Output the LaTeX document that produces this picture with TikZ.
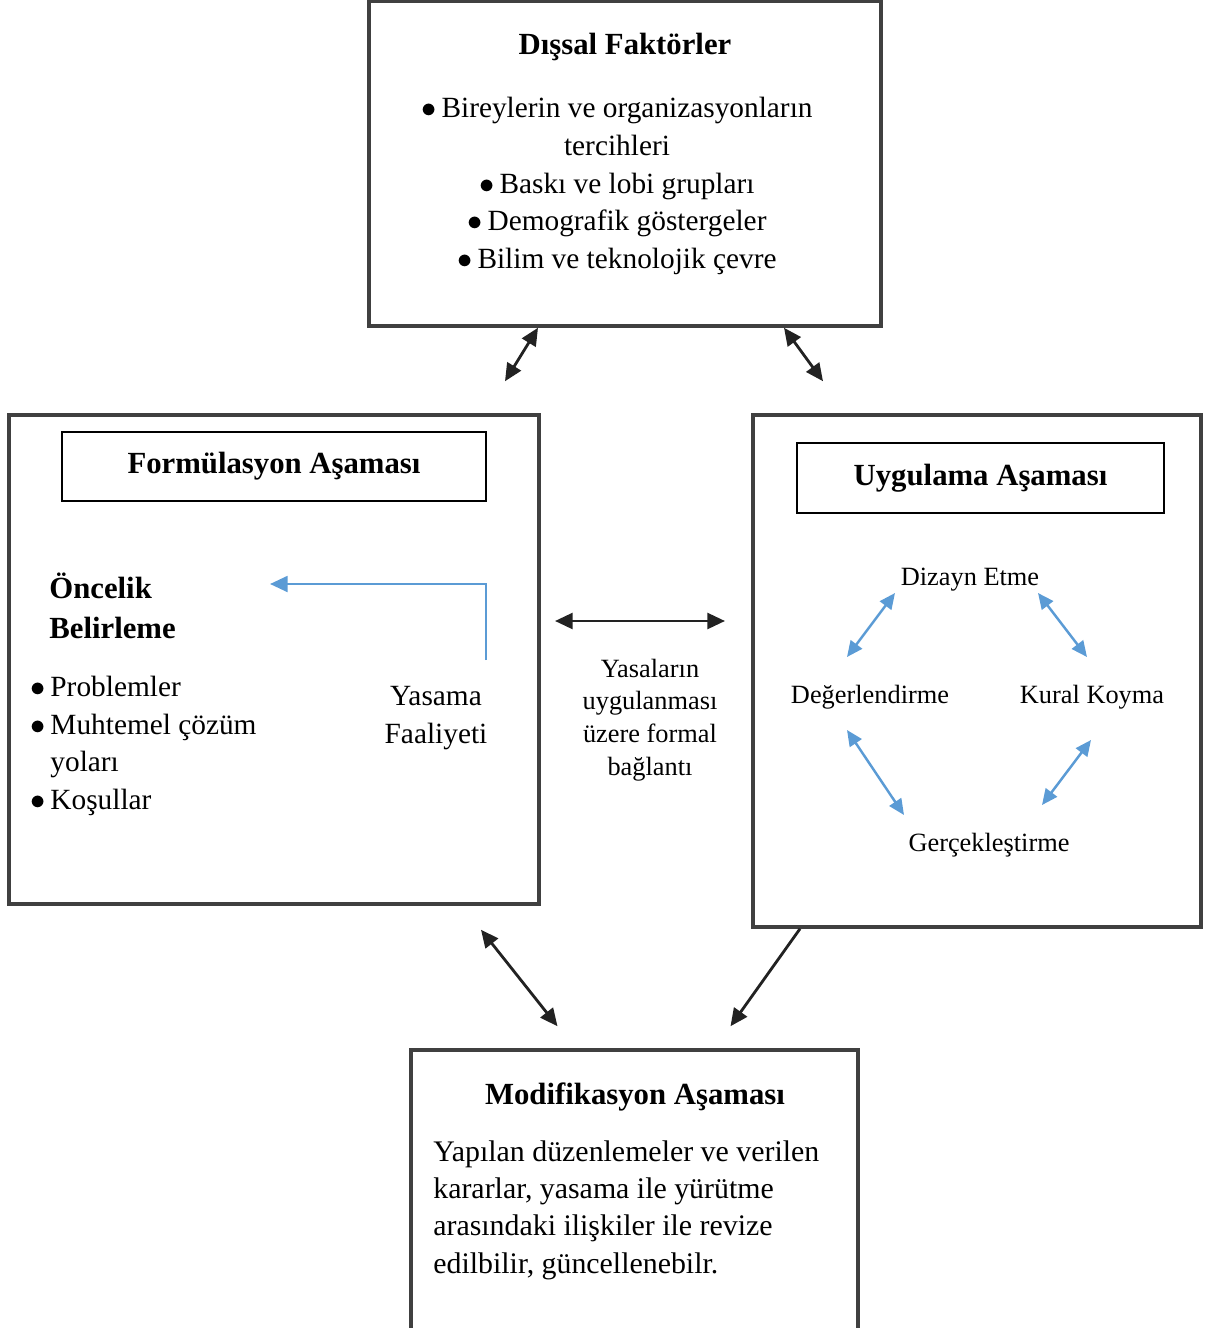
\documentclass[tikz,border=0pt]{standalone}
\usepackage{fontspec}
\setmainfont{Liberation Serif}
\usetikzlibrary{arrows.meta,calc,fit}
\definecolor{boxgray}{HTML}{404040}
\definecolor{arrowblack}{HTML}{222222}
\definecolor{cycleblue}{HTML}{5B9BD5}
\newcommand{\bul}{$\bullet$\,}
\tikzset{
  bigbox/.style={draw=boxgray, line width=2pt, inner sep=0pt},
  titlebox/.style={draw=black, line width=0.6pt, inner sep=0pt},
  titletext/.style={font=\fontsize{17.5}{22}\selectfont\bfseries, inner sep=0pt},
  bodytext/.style={font=\fontsize{16.7}{21.5}\selectfont, inner sep=0pt},
  smalltext/.style={font=\fontsize{15}{18.7}\selectfont, inner sep=0pt},
  karrow/.style={draw=arrowblack, line width=1.6pt, {Triangle[length=10pt,width=9pt]}-{Triangle[length=10pt,width=9pt]}},
  barrow/.style={draw=cycleblue, line width=1.4pt, {Triangle[length=9pt,width=8pt]}-{Triangle[length=9pt,width=8pt]}}
}
\begin{document}
\begin{tikzpicture}[x=0.02cm, y=-0.02cm]
  \useasboundingbox (0,0) rectangle (1205,1328);
  % boxes
  \node[bigbox, fit={(369,1) (881,326)}] (dis) {};
  \node[bigbox, fit={(9,415) (539,904)}] (for) {};
  \node[titlebox, fit={(62,432) (486,501)}] (fortitle) {};
  \node[bigbox, fit={(753,415) (1201,927)}] (uyg) {};
  \node[titlebox, fit={(797,443) (1164,513)}] (uygtitle) {};
  \node[bigbox, fit={(411,1050) (858,1334)}] (mod) {};

  % Dissal faktorler
  \node[titletext] (n1) at (625,47) {Dışsal Faktörler};
  \node[bodytext, align=center] (n2) at (617,186) {\bul Bireylerin ve organizasyonların\\tercihleri\\\bul Baskı ve lobi grupları\\\bul Demografik göstergeler\\\bul Bilim ve teknolojik çevre};

  % Formulasyon
  \node[titletext] (n3) at (fortitle) {Formülasyon Aşaması};
  \node[titletext, align=left, anchor=west, font=\fontsize{17.5}{23}\selectfont\bfseries] (onc) at (49,606) {Öncelik\\Belirleme};
  \node[bodytext, align=left, anchor=west] (n4) at (30,746) {\bul Problemler\\\bul Muhtemel çözüm\\\hphantom{\bul}yoları\\\bul Koşullar};
  \node[bodytext, align=center] (yas) at (436,718) {Yasama\\Faaliyeti};
  \coordinate (oncarrow) at (270,584);
  \draw[draw=cycleblue, line width=1.4pt, -{Triangle[length=10pt,width=9pt]}] ($(yas)+(50,-58)$) |- (oncarrow);

  % baglanti
  \node[smalltext, align=center] (bag) at (650,720) {Yasaların\\uygulanması\\üzere formal\\bağlantı};
  \draw[karrow] ($(bag)+(-95,-99)$) -- ($(bag)+(75,-99)$);

  % Uygulama
  \node[titletext] (n5) at (uygtitle) {Uygulama Aşaması};
  \node[smalltext] (diz) at (970,580) {Dizayn Etme};
  \node[smalltext] (deg) at (870,697) {Değerlendirme};
  \node[smalltext] (kur) at (1092,697) {Kural Koyma};
  \node[smalltext] (ger) at (989,845) {Gerçekleştirme};
  \draw[barrow] ($(diz)+(-75,13)$) -- ($(deg)+(-23,-40)$);
  \draw[barrow] ($(diz)+(68,13)$) -- ($(kur)+(-5,-40)$);
  \draw[barrow] ($(deg)+(-23,33)$) -- ($(ger)+(-85,-30)$);
  \draw[barrow] ($(kur)+(-1,43)$) -- ($(ger)+(53,-40)$);

  % Modifikasyon
  \node[titletext] (n6) at (635,1097) {Modifikasyon Aşaması};
  \node[bodytext, align=left, anchor=west, font=\fontsize{17}{21.3}\selectfont] (n7) at (433,1210) {Yapılan düzenlemeler ve verilen\\kararlar, yasama ile yürütme\\arasındaki ilişkiler ile revize\\edilbilir, güncellenebilr.};

  % box connectors
  \draw[karrow] ($(dis.south)+(-87,0)$) -- ($(for.north)+(231,-32)$);
  \draw[karrow] ($(dis.south)+(159,0)$) -- ($(uyg.north)+(-154,-32)$);
  \draw[karrow] ($(for.south)+(207,24)$) -- ($(mod.north)+(-77,-22)$);
  \draw[draw=arrowblack, line width=1.6pt, -{Triangle[length=10pt,width=9pt]}] ($(uyg.south)+(-177,0)$) -- ($(mod.north)+(96,-22)$);
\end{tikzpicture}
\end{document}
